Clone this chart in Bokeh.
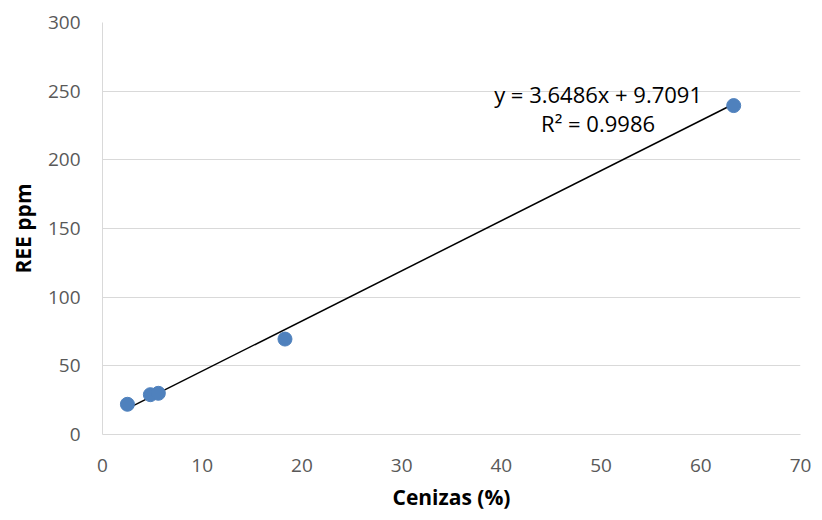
from bokeh.plotting import figure
from bokeh.models import Range1d, Label, FixedTicker
from bokeh.embed import file_html
from bokeh.resources import INLINE

cenizas = [2.5, 4.8, 5.6, 18.3, 63.3]
ree = [22.0, 29.0, 30.0, 69.5, 239.5]
slope = 3.6486
intercept = 9.7091
r2 = 0.9986
x_ticks = [0, 10, 20, 30, 40, 50, 60, 70]
y_ticks = [0, 50, 100, 150, 200, 250, 300]

FONT = "Open Sans"

p = figure(width=822, height=520, output_backend="svg", toolbar_location=None,
           x_range=Range1d(0, 70), y_range=Range1d(0, 300),
           min_border_left=102, min_border_right=22, min_border_top=22, min_border_bottom=86)
p.outline_line_color = None
p.background_fill_color = "white"

p.xgrid.grid_line_color = None
p.ygrid.grid_line_color = "#d9d9d9"
p.ygrid.grid_line_width = 1
p.ygrid.ticker = FixedTicker(ticks=y_ticks)

p.xaxis.ticker = FixedTicker(ticks=x_ticks)
p.yaxis.ticker = FixedTicker(ticks=y_ticks)
for ax in (p.xaxis[0], p.yaxis[0]):
    ax.axis_line_color = "#d9d9d9"
    ax.major_tick_line_color = None
    ax.minor_tick_line_color = None
    ax.major_label_text_font = FONT
    ax.major_label_text_font_size = "19px"
    ax.major_label_text_color = "#595959"
    ax.axis_label_text_font = FONT
    ax.axis_label_text_font_size = "21px"
    ax.axis_label_text_font_style = "bold"
    ax.axis_label_text_color = "black"

p.xaxis.axis_label = "Cenizas (%)"
p.yaxis.axis_label = "REE ppm"
p.xaxis.major_label_standoff = 18
p.yaxis.major_label_standoff = 16
p.xaxis.axis_label_standoff = 8
p.yaxis.axis_label_standoff = 8

xmin, xmax = min(cenizas), max(cenizas)
p.line([xmin, xmax], [slope * xmin + intercept, slope * xmax + intercept],
       line_color="black", line_width=1.5)
p.scatter(cenizas, ree, size=14, fill_color="#4F81BD", line_color="#4F81BD")

p.add_layout(Label(x=49.7, y=248, text=f"y = {slope}x + {intercept}",
                   text_font=FONT, text_font_size="22px", text_color="black",
                   text_align="center", text_baseline="middle"))
p.add_layout(Label(x=49.7, y=226.5, text=f"R² = {r2}",
                   text_font=FONT, text_font_size="22px", text_color="black",
                   text_align="center", text_baseline="middle"))

open("out.html", "w").write(file_html(p, INLINE))
